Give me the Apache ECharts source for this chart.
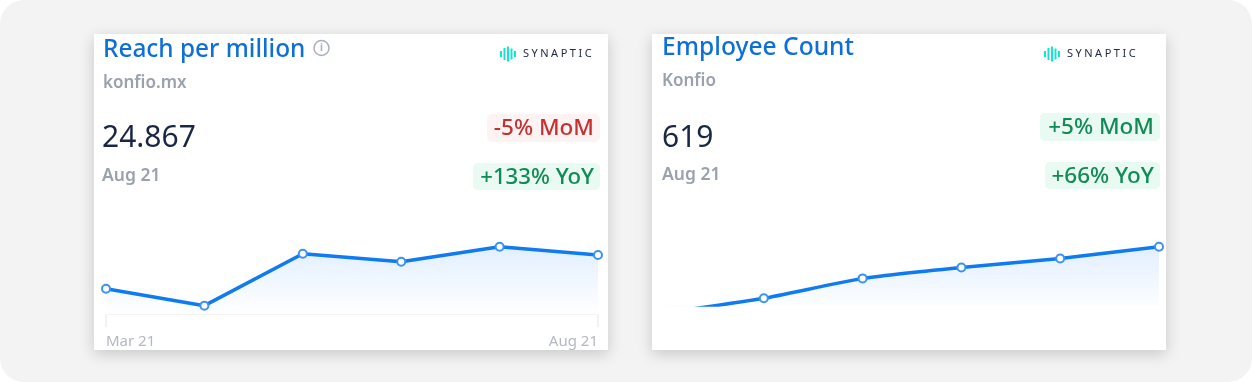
<!DOCTYPE html>
<html><head><meta charset="utf-8">
<style>html,body{margin:0;padding:0;background:#fff}#c{width:1252px;height:382px}</style>
<script src="https://cdn.jsdelivr.net/npm/echarts@6/dist/echarts.min.js"></script>
</head><body><div id="c"></div>
<script>
const categories = ['Mar 21','Apr 21','May 21','Jun 21','Jul 21','Aug 21'];
const reachValues = [19.54, 16.86, 25.07, 23.81, 26.18, 24.867];
const employeeValues = [456, 492, 541, 568, 590, 619];
const FONT = '"Noto Sans", sans-serif';
const chart = echarts.init(document.getElementById('c'), null, {renderer:'canvas'});

function txt(x, y, text, size, color, weight, align) {
  return {type:'text', x, y, silent:true, style:{text, font:(weight||400)+' '+size+'px '+FONT, fill:color, textAlign:align||'left', textVerticalAlign:'middle'}};
}
function pill(x, y, w, h, fill) {
  return {type:'rect', silent:true, shape:{x, y, width:w, height:h, r:5}, style:{fill}};
}
const measure = document.createElement('canvas').getContext('2d');
function logo(x, y) {
  const out = [];
  const bars = [[0,6],[3.5,12],[7,15],[10.5,11],[14,6]];
  bars.forEach(b => out.push({type:'rect', silent:true, shape:{x:x+b[0], y:y-b[1]/2, width:2, height:b[1]}, style:{fill:'#14e3cd'}}));
  const font = '400 11px '+FONT;
  measure.font = font;
  let cx = x+23;
  'SYNAPTIC'.split('').forEach(ch => {
    out.push({type:'text', silent:true, x:cx, y:y, style:{text:ch, font, fill:'#222b45', textAlign:'left', textVerticalAlign:'middle'}});
    cx += measure.measureText(ch).width + 2.5;
  });
  return out;
}
function card(x) {
  return {type:'rect', silent:true, shape:{x, y:34, width:514, height:316}, style:{fill:'#fff', shadowBlur:14, shadowColor:'rgba(0,0,0,0.18)', shadowOffsetY:4}};
}
const RED='#c53030', GREEN='#128a55', GREY='#9aa1ae';
const els = [
  {type:'rect', silent:true, shape:{x:0,y:0,width:1252,height:382,r:24}, style:{fill:'#f3f3f3'}},
  card(94), card(652),
  txt(103,50,'Reach per million',24.4,'#0f6fd8',500),
  {type:'circle', silent:true, shape:{cx:321.5,cy:48,r:7.5}, style:{fill:'none',stroke:'#a9afbb',lineWidth:1.5}},
  txt(321.5,48,'i',10,'#a9afbb',700,'center'),
  txt(103,83,'konfio.mx',17,GREY,600),
  txt(102,138,'24.867',30,'#1a2744',400),
  txt(102,176,'Aug 21',17.5,GREY,600),
  pill(487,114,113,28,'#fdf3f3'),
  txt(594,128.5,'-5% MoM',22.5,RED,500,'right'),
  pill(473,163,127,27,'#e8faf1'),
  txt(594,177.5,'+133% YoY',22.2,GREEN,500,'right'),
  ...logo(500,54),
  txt(662,48,'Employee Count',24.6,'#0f6fd8',500),
  txt(662,81,'Konfio',17,GREY,600),
  txt(662,138,'619',30,'#1a2744',400),
  txt(662,175,'Aug 21',17.5,GREY,600),
  pill(1040,113,120,28,'#e8faf1'),
  txt(1154,128,'+5% MoM',22.5,GREEN,500,'right'),
  pill(1045,162,115,27,'#e8faf1'),
  txt(1154,177,'+66% YoY',22.5,GREEN,500,'right'),
  ...logo(1044,54)
];
function area() {
  return {color:{type:'linear',x:0,y:0,x2:0,y2:1,colorStops:[{offset:0,color:'#e2efff'},{offset:1,color:'#ffffff'}]}, opacity:1, origin:'start'};
}
function series(i, data, smooth) {
  return {type:'line', xAxisIndex:i, yAxisIndex:i, data, smooth, clip:true, symbol:'circle', symbolSize:8, showSymbol:true,
    lineStyle:{color:'#0f7bf2',width:3.5}, itemStyle:{color:'#fff',borderColor:'#3b92f5',borderWidth:2}, areaStyle:area(), animation:false, silent:true};
}
chart.setOption({
  animation:false,
  graphic:{elements:els},
  grid:[
    {left:106,width:492,top:240,height:74},
    {left:665,width:494,top:240,height:65}
  ],
  xAxis:[
    {gridIndex:0,type:'category',data:categories,boundaryGap:false,
      axisLine:{show:true,lineStyle:{color:'#f0f0f0',width:1.5}},
      axisTick:{show:true,length:13,interval:(i)=>i===0||i===5,lineStyle:{color:'#f0f0f0',width:1.5}},
      axisLabel:{show:true,interval:(i)=>i===0||i===5,alignMinLabel:'left',alignMaxLabel:'right',color:'#b4b8c1',fontFamily:FONT,fontSize:15,margin:20}},
    {gridIndex:1,type:'category',data:categories,boundaryGap:false,show:false}
  ],
  yAxis:[
    {gridIndex:0,type:'value',min:15.54,max:27.24,show:false,splitLine:{show:false}},
    {gridIndex:1,type:'value',min:475.5,max:635.5,show:false,splitLine:{show:false}}
  ],
  series:[series(0,reachValues,false),series(1,employeeValues,0.15)]
});
</script></body></html>
